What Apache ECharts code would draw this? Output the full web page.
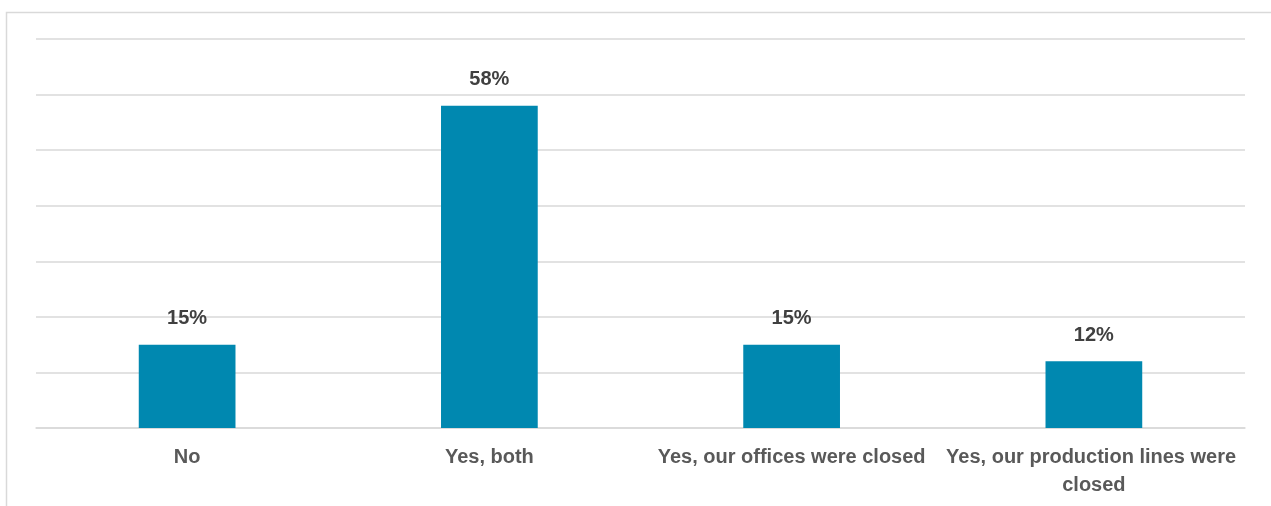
<!DOCTYPE html>
<html>
<head>
<meta charset="utf-8">
<script src="https://cdn.jsdelivr.net/npm/echarts@6/dist/echarts.min.js"></script>
<style>
  html, body { margin: 0; padding: 0; background: #ffffff; }
  #chart { width: 1271px; height: 506px; }
</style>
</head>
<body>
<div id="chart"></div>
<script>
// Survey responses: share of companies that closed sites
const categories = ['No', 'Yes, both', 'Yes, our offices were closed', 'Yes, our production lines were closed'];
const shares = [15, 58, 15, 12];

const FONT = '"Liberation Sans Narrow", "Arial Narrow", "Liberation Sans", Arial, sans-serif';

const chart = echarts.init(document.getElementById('chart'), null, { renderer: 'canvas' });

chart.setOption({
  animation: false,
  backgroundColor: '#ffffff',
  graphic: [{
    type: 'rect',
    shape: { x: 6.5, y: 12.5, width: 1300, height: 600 },
    style: { fill: 'none', stroke: '#d9d9d9', lineWidth: 1.5 },
    silent: true
  }],
  grid: { left: 36, right: 26, top: 39, bottom: 78, containLabel: false },
  xAxis: {
    type: 'category',
    data: categories,
    axisLine: { show: true, lineStyle: { color: '#d9d9d9', width: 1.5 } },
    axisTick: { show: false },
    axisLabel: {
      interval: 0,
      margin: 15,
      color: '#595959',
      fontFamily: FONT,
      fontWeight: 'bold',
      fontSize: 20,
      lineHeight: 28,
      width: 300,
      overflow: 'break'
    }
  },
  yAxis: {
    type: 'value',
    min: 0,
    max: 70,
    interval: 10,
    axisLabel: { show: false },
    axisLine: { show: false },
    axisTick: { show: false },
    splitLine: { lineStyle: { color: '#d9d9d9', width: 1.5 } }
  },
  series: [{
    type: 'bar',
    data: shares,
    barWidth: '32%',
    itemStyle: { color: '#0088b0' },
    label: {
      show: true,
      position: 'top',
      distance: 16,
      formatter: '{c}%',
      color: '#404040',
      fontFamily: FONT,
      fontWeight: 'bold',
      fontSize: 20
    }
  }]
});
</script>
</body>
</html>
